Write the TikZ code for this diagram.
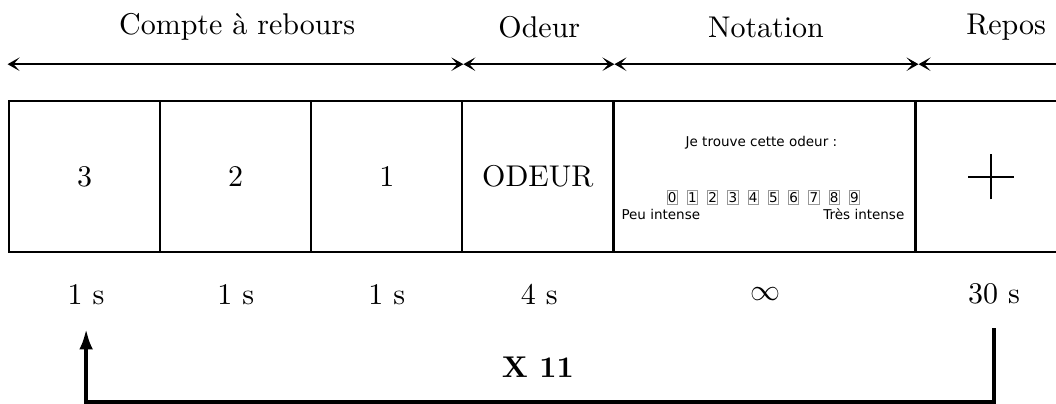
\documentclass[tikz,border=0pt]{standalone}
\usepackage{fontspec}
\newfontfamily\screenfont{DejaVu Sans}
\usetikzlibrary{arrows.meta, positioning}

\begin{document}
\begin{tikzpicture}[x=1.77cm, y=1.77cm,
    slot/.style={draw, thick, minimum width=#1, minimum height=1.77cm, inner sep=0pt},
    slot/.default=1.77cm,
    span/.style={thick, {Stealth[length=4pt, width=4.5pt, inset=2pt]}-{Stealth[length=4pt, width=4.5pt, inset=2pt]}},
    scr/.style={font=\screenfont\fontsize{4.5}{5.5}\selectfont, inner sep=0pt},
    digit/.style={scr, draw=gray!80, line width=0.3pt, minimum width=3.4pt, minimum height=4.5pt},
    loop/.style={line width=1.4pt},
]
    \useasboundingbox (-0.06,-1.0) rectangle (6.93,1.67);

    % Screens
    \node[slot] (b3) at (0.5, 0.5) {3};
    \node[slot] (b2) at (1.5, 0.5) {2};
    \node[slot] (b1) at (2.5, 0.5) {1};
    \node[slot] (odeur) at (3.5, 0.5) {ODEUR};
    \node[slot=3.54cm] (notation) at (5, 0.5) {};
    \node[slot] (repos) at (6.5, 0.5) {};

    % Rating screen
    \node[scr] (question) at (4.98, 0.728) {Je trouve cette odeur :};
    \foreach \d in {0,...,9}
        \node[digit] (d\d) at (4.39+0.134*\d, 0.364) {\d};
    \node[scr, anchor=west] (low) at (4.05, 0.25) {Peu intense};
    \node[scr, anchor=east] (high) at (5.93, 0.25) {Très intense};

    % Fixation cross
    \draw[semithick] (repos.center) ++(-0.15,0) -- ++(0.3,0);
    \draw[semithick] (repos.center) ++(0,-0.15) -- ++(0,0.3);

    % Phases
    \foreach \i/\x in {0/-0.01, 1/3.007, 2/4.007, 3/6.02, 4/7.2}
        \coordinate (t\i) at (\x, 1.245);
    \draw[span] (t0) -- (t1);
    \draw[span] (t1) -- (t2);
    \draw[span] (t2) -- (t3);
    \draw[thick, {Stealth[length=4pt, width=4.5pt, inset=2pt]}-] (t3) -- (t4);

    \node (pcount) at (1.51, 1.49) {Compte à rebours};
    \node (podeur) at (3.51, 1.49) {Odeur};
    \node (pnote) at (5.01, 1.49) {Notation};
    \node (prepos) at (6.6, 1.49) {Repos};

    % Durations
    \node (s3) at (0.51, -0.278) {1 s};
    \node (s2) at (1.5, -0.278) {1 s};
    \node (s1) at (2.5, -0.278) {1 s};
    \node (s4) at (3.51, -0.278) {4 s};
    \node (sinf) at (5.01, -0.278) {$\infty$};
    \node (s30) at (6.52, -0.278) {30 s};

    % Repetition
    \coordinate (ret) at (6.52, -0.503);
    \coordinate (back) at (0.51, -0.503);
    \draw[loop, -{Latex[length=7pt, width=4.5pt]}]
        (ret) -- ++(0,-0.49) -| (back);
    \node[font=\bfseries] (reps) at (3.5, -0.76) {X 11};
\end{tikzpicture}
\end{document}
